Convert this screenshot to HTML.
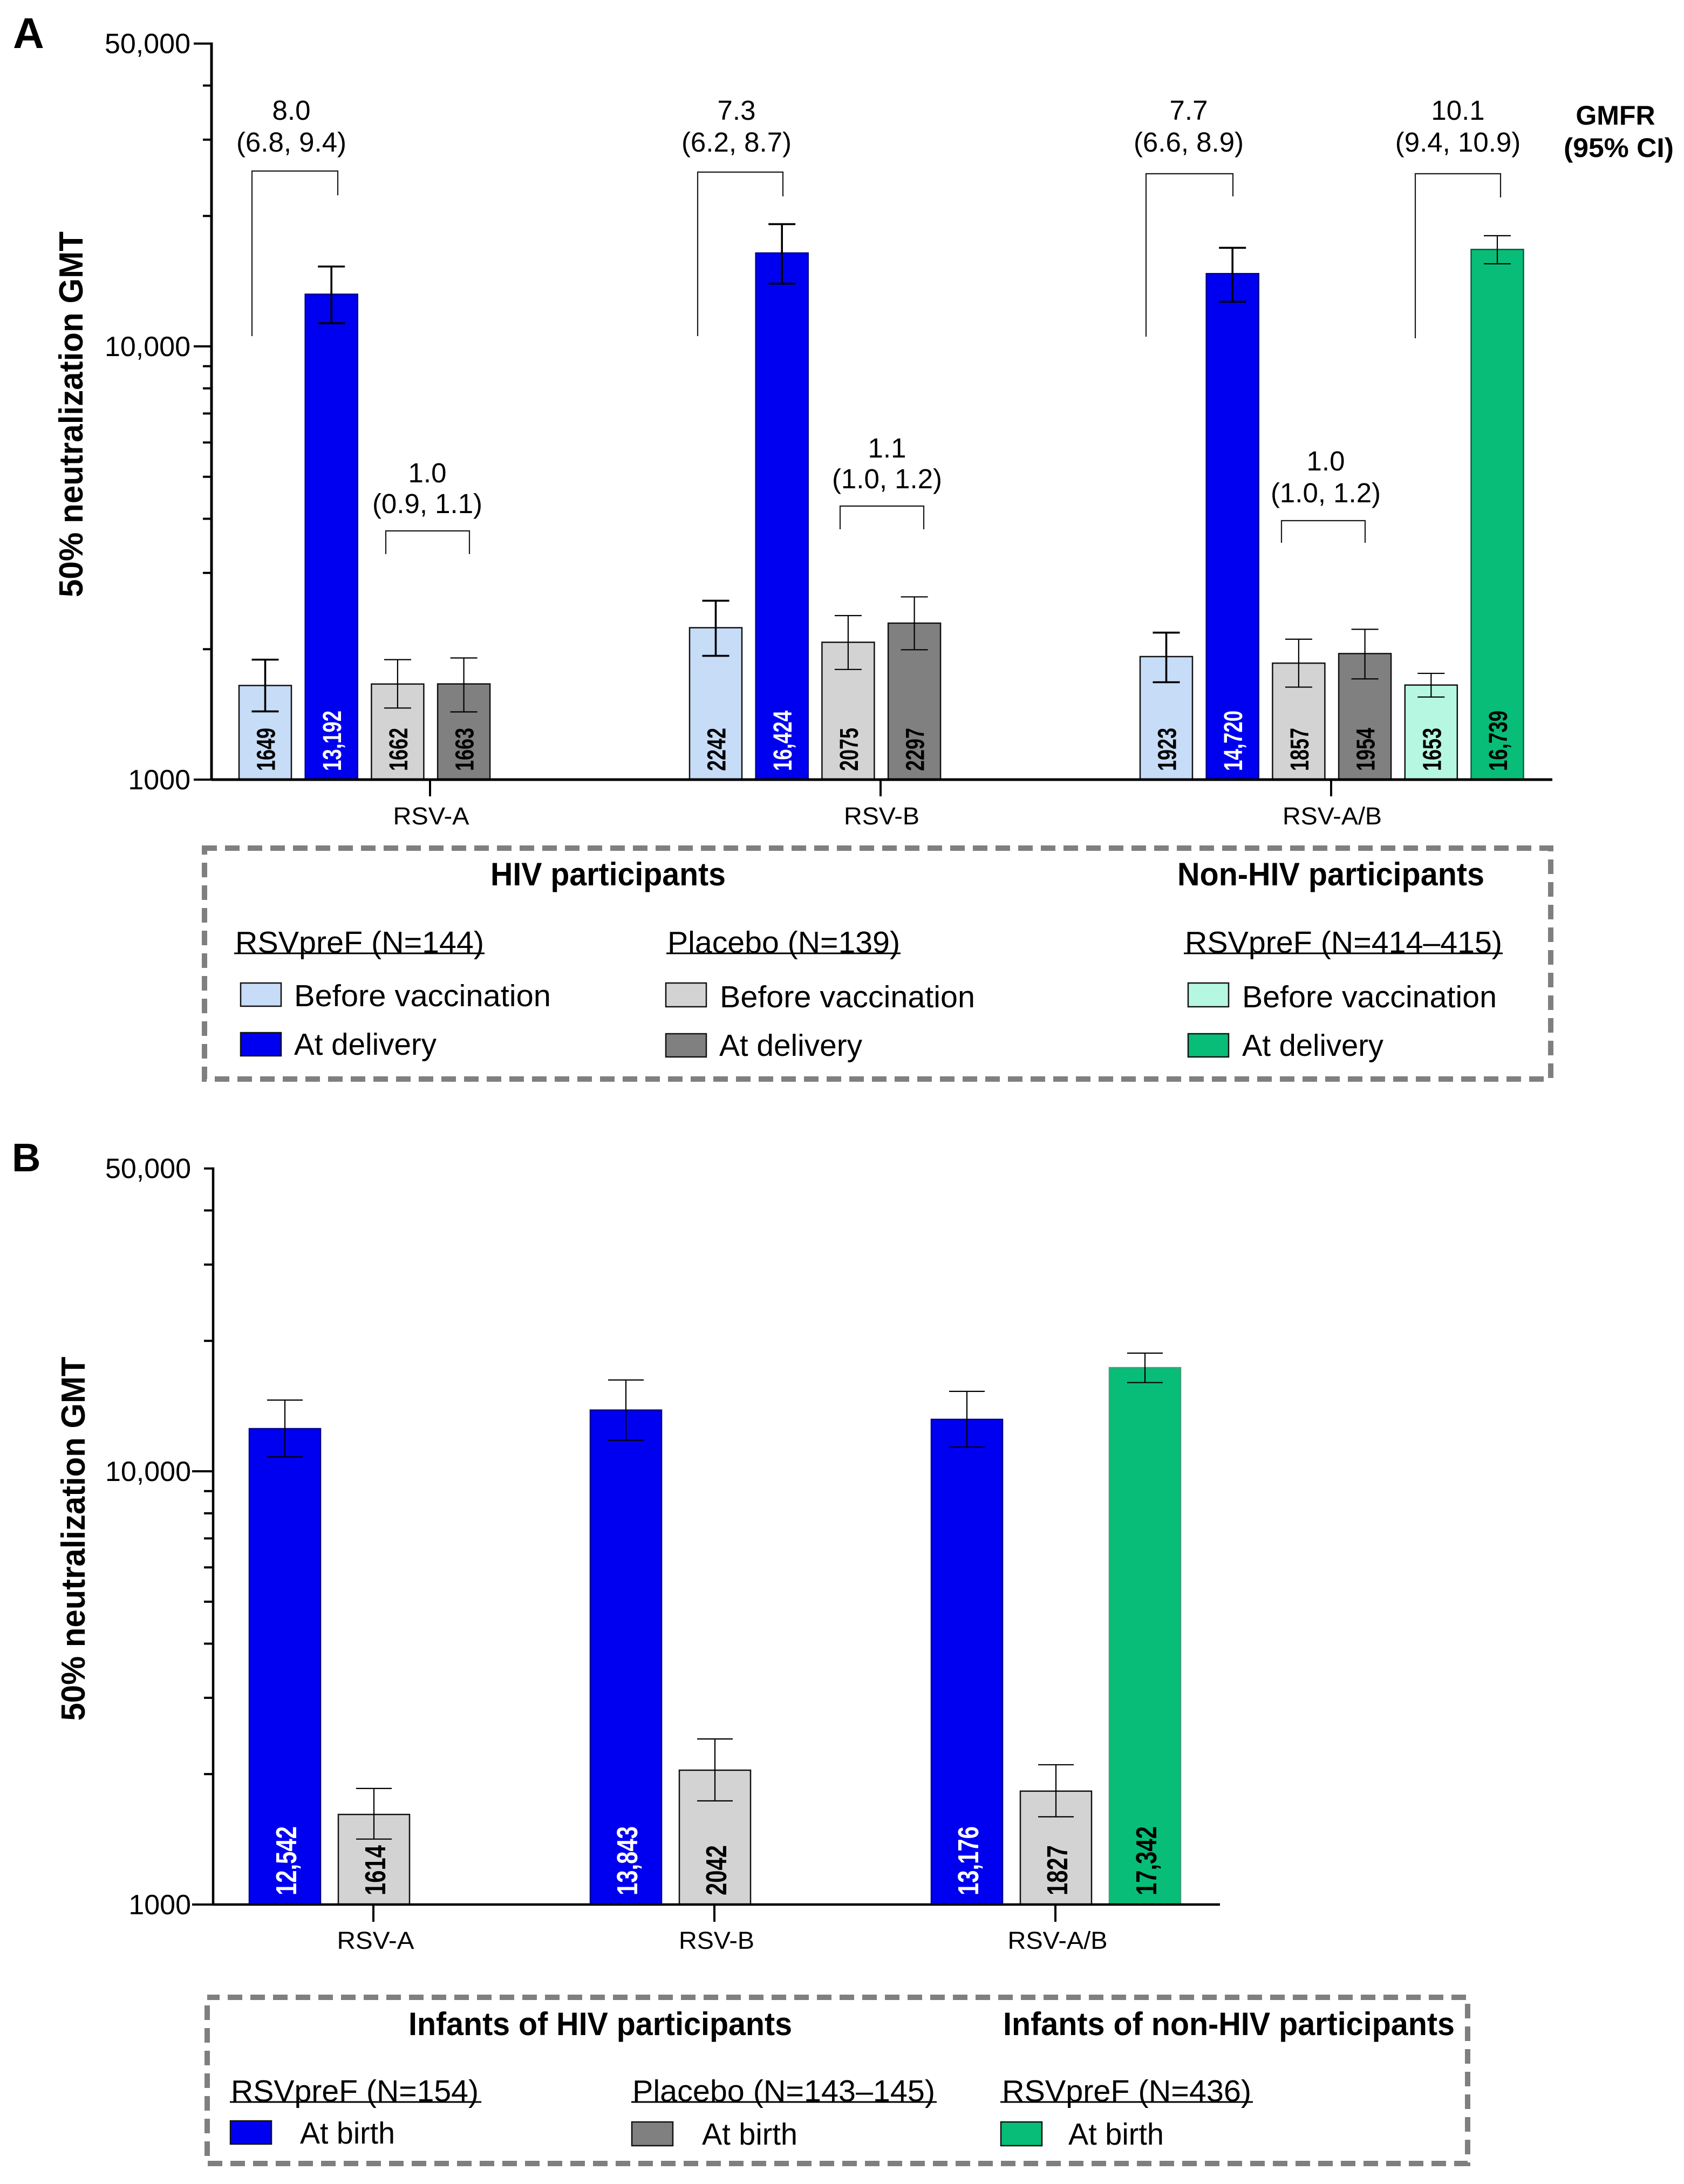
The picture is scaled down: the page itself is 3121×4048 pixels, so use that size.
<!DOCTYPE html>
<html lang="en">
<head>
<meta charset="utf-8">
<title>50% neutralization GMT by RSV subgroup</title>
<style>
html,body{margin:0;padding:0;background:#fff;}
svg{display:block;}
text{font-family:"Liberation Sans",Arial,sans-serif;fill:#000;}
.b{font-weight:bold;}
.gm{font-size:51px;text-anchor:middle;}
.br{fill:none;stroke:#1a1a1a;stroke-width:2.2;}
.leg{font-size:57px;}
.hd{font-size:60px;font-weight:bold;}
.box{fill:none;stroke:#7f7f7f;stroke-width:10;stroke-dasharray:27 15;stroke-dashoffset:4;}
.ul{stroke:#000;stroke-width:3;}
.sw{stroke:#111;stroke-width:2.5;}
</style>
</head>
<body>
<svg id="figure" xmlns="http://www.w3.org/2000/svg" width="3121" height="4048" viewBox="0 0 3121 4048">
<rect x="0" y="0" width="3121" height="4048" fill="#fff"/>

<text class="b" x="24" y="89" font-size="80">A</text>
<text class="b" x="22" y="2171" font-size="74">B</text>

<text class="b" transform="translate(153,768) rotate(-90)" font-size="62" text-anchor="middle" textLength="678" lengthAdjust="spacingAndGlyphs">50% neutralization GMT</text>
<text class="b" transform="translate(157,2852) rotate(-90)" font-size="62" text-anchor="middle" textLength="675" lengthAdjust="spacingAndGlyphs">50% neutralization GMT</text>

<g id="panelA"></g>
<g id="panelB"></g>

<g>
<text class="gm" x="540" y="222">8.0</text>
<text class="gm" x="540" y="281">(6.8, 9.4)</text>
<path class="br" d="M467 623V317H626V362"/>
<text class="gm" x="792" y="894">1.0</text>
<text class="gm" x="792" y="951">(0.9, 1.1)</text>
<path class="br" d="M715 1027V984H870V1027"/>
<text class="gm" x="1365" y="222">7.3</text>
<text class="gm" x="1365" y="281">(6.2, 8.7)</text>
<path class="br" d="M1293 623V319H1451V364"/>
<text class="gm" x="1644" y="848">1.1</text>
<text class="gm" x="1644" y="905">(1.0, 1.2)</text>
<path class="br" d="M1557 981V938H1712V981"/>
<text class="gm" x="2203" y="222">7.7</text>
<text class="gm" x="2203" y="281">(6.6, 8.9)</text>
<path class="br" d="M2124 624V322H2285V364"/>
<text class="gm" x="2457" y="872">1.0</text>
<text class="gm" x="2457" y="931">(1.0, 1.2)</text>
<path class="br" d="M2375 1006V965H2530V1006"/>
<text class="gm" x="2702" y="222">10.1</text>
<text class="gm" x="2702" y="281">(9.4, 10.9)</text>
<path class="br" d="M2623 627V322H2781V366"/>
<text class="b" x="2994" y="231" font-size="50" text-anchor="middle">GMFR</text>
<text class="b" x="3000" y="291" font-size="50" text-anchor="middle" textLength="204" lengthAdjust="spacingAndGlyphs">(95% CI)</text>
</g>

<g>
<rect class="box" x="379" y="1572" width="2495" height="428"/>
<text class="hd" x="909" y="1641" textLength="436" lengthAdjust="spacingAndGlyphs">HIV participants</text>
<text class="hd" x="2182" y="1641" textLength="569" lengthAdjust="spacingAndGlyphs">Non-HIV participants</text>

<text class="leg" x="436" y="1766" textLength="461" lengthAdjust="spacingAndGlyphs">RSVpreF (N=144)</text>
<line class="ul" x1="434" x2="898" y1="1767" y2="1767"/>
<text class="leg" x="1237" y="1766" textLength="431" lengthAdjust="spacingAndGlyphs">Placebo (N=139)</text>
<line class="ul" x1="1235" x2="1669" y1="1767" y2="1767"/>
<text class="leg" x="2196" y="1766" textLength="588" lengthAdjust="spacingAndGlyphs">RSVpreF (N=414–415)</text>
<line class="ul" x1="2194" x2="2785" y1="1767" y2="1767"/>

<rect class="sw" x="446" y="1822" width="75" height="43" fill="#C6DCF7"/>
<text class="leg" x="545" y="1865" textLength="476" lengthAdjust="spacingAndGlyphs">Before vaccination</text>
<rect class="sw" x="446" y="1914" width="75" height="43" fill="#0000F0"/>
<text class="leg" x="545" y="1955" textLength="264" lengthAdjust="spacingAndGlyphs">At delivery</text>

<rect class="sw" x="1234" y="1822" width="75" height="44" fill="#D3D3D3"/>
<text class="leg" x="1334" y="1867" textLength="473" lengthAdjust="spacingAndGlyphs">Before vaccination</text>
<rect class="sw" x="1234" y="1916" width="75" height="43" fill="#808080"/>
<text class="leg" x="1333" y="1957" textLength="265" lengthAdjust="spacingAndGlyphs">At delivery</text>

<rect class="sw" x="2202" y="1822" width="75" height="44" fill="#B5F7E0"/>
<text class="leg" x="2302" y="1867" textLength="472" lengthAdjust="spacingAndGlyphs">Before vaccination</text>
<rect class="sw" x="2202" y="1916" width="75" height="43" fill="#08BD78"/>
<text class="leg" x="2302" y="1957" textLength="262" lengthAdjust="spacingAndGlyphs">At delivery</text>
</g>

<g>
<rect class="box" x="384" y="3702" width="2336" height="308"/>
<text class="hd" x="757" y="3772" textLength="711" lengthAdjust="spacingAndGlyphs">Infants of HIV participants</text>
<text class="hd" x="1859" y="3772" textLength="837" lengthAdjust="spacingAndGlyphs">Infants of non-HIV participants</text>

<text class="leg" x="428" y="3895" textLength="459" lengthAdjust="spacingAndGlyphs">RSVpreF (N=154)</text>
<line class="ul" x1="426" x2="892" y1="3896" y2="3896"/>
<text class="leg" x="1172" y="3895" textLength="561" lengthAdjust="spacingAndGlyphs">Placebo (N=143–145)</text>
<line class="ul" x1="1170" x2="1736" y1="3896" y2="3896"/>
<text class="leg" x="1857" y="3895" textLength="462" lengthAdjust="spacingAndGlyphs">RSVpreF (N=436)</text>
<line class="ul" x1="1854" x2="2322" y1="3896" y2="3896"/>

<rect class="sw" x="427" y="3931" width="76" height="43" fill="#0000F0"/>
<text class="leg" x="556" y="3973" textLength="176" lengthAdjust="spacingAndGlyphs">At birth</text>
<rect class="sw" x="1171" y="3933" width="76" height="44" fill="#808080"/>
<text class="leg" x="1301" y="3975" textLength="177" lengthAdjust="spacingAndGlyphs">At birth</text>
<rect class="sw" x="1855" y="3933" width="76" height="44" fill="#08BD78"/>
<text class="leg" x="1980" y="3975" textLength="177" lengthAdjust="spacingAndGlyphs">At birth</text>
</g>
</svg>

<script>
/* ---------- chart data ---------- */
const categories = ['RSV-A', 'RSV-B', 'RSV-A/B'];

const panelASeries = ['HIV RSVpreF before', 'HIV RSVpreF delivery', 'HIV placebo before', 'HIV placebo delivery', 'Non-HIV before', 'Non-HIV delivery'];
const panelAValues = [
  [1649, 13192, 1662, 1663],
  [2242, 16424, 2075, 2297],
  [1923, 14720, 1857, 1954, 1653, 16739]
];
const panelAUpper = [
  [1892, 15286, 1892, 1909],
  [2588, 19148, 2391, 2641],
  [2184, 16886, 2109, 2223, 1759, 18009]
];
const panelALower = [
  [1437, 11310, 1463, 1433],
  [1931, 13960, 1796, 1994],
  [1678, 12675, 1635, 1708, 1551, 15510]
];

const panelBSeries = ['HIV RSVpreF birth', 'HIV placebo birth', 'Non-HIV RSVpreF birth'];
const panelBValues = [
  [12542, 1614],
  [13843, 2042],
  [13176, 1827, 17342]
];
const panelBUpper = [
  [14600, 1853],
  [16246, 2411],
  [15293, 2102, 18737]
];
const panelBLower = [
  [10797, 1416],
  [11788, 1735],
  [11376, 1594, 16024]
];

const yTickValues = [1000, 2000, 3000, 4000, 5000, 6000, 7000, 8000, 9000, 10000, 20000, 30000, 40000, 50000];
const yMajorTicks = [1000, 10000, 50000];
const yMajorLabels = ['1000', '10,000', '50,000'];

/* ---------- axis functions ---------- */
function yA(v) { return 1445 - 803 * Math.log10(v / 1000); }
function yB(v) { return 3530 - 803 * Math.log10(v / 1000); }
function tickXA(g) { return 797 + g * 835; }
function tickXB(g) { return 692 + g * 632; }
function barXA(g, s) { return tickXA(g) - 354 + s * 122.7; }
function barXB(g, s) { return tickXB(g) - 230 + s * 165; }
function formatValue(v) { return v >= 10000 ? v.toLocaleString('en-US') : String(v); }

const NS = 'http://www.w3.org/2000/svg';
function make(tag, parent) {
  const el = document.createElementNS(NS, tag);
  parent.appendChild(el);
  return el;
}
function drawLine(el, x1, y1, x2, y2, w, color) {
  el.setAttribute('x1', x1);
  el.setAttribute('y1', y1);
  el.setAttribute('x2', x2);
  el.setAttribute('y2', y2);
  el.setAttribute('stroke', w ? color : 'none');
  el.setAttribute('stroke-width', w);
}

const panelAFills = ['#C6DCF7', '#0000F0', '#D3D3D3', '#808080', '#B5F7E0', '#08BD78'];
const panelAStrokes = ['#111', '#00008c', '#111', '#111', '#111', '#0a5c3c'];
const panelATextFills = ['#000', '#fff', '#000', '#000', '#000', '#000'];
const panelAErrWidths = [3.6, 3.6, 2.2, 2.2, 2.2, 2.2];
const panelBFills = ['#0000F0', '#D3D3D3', '#08BD78'];
const panelBStrokes = ['#00008c', '#111', '#3f9f78'];
const panelBTextFills = ['#fff', '#000', '#000'];

function drawAxes(root, y, axisX, axisEnd, axisW, tickX, labelX, labelBaseline, labelDx, tickBottom, majorLeft, minorLeft, topTickLeft, labelLens) {
  categories.forEach(function (name, g) {
    const tick = make('line', root);
    
    
    drawLine(tick, tickX(g), y(1000), tickX(g), tickBottom, 4, '#000');
    const label = make('text', root);
    
    
    label.setAttribute('x', tickX(g) + labelDx);
    label.setAttribute('y', labelBaseline);
    label.setAttribute('font-size', '45');
    label.setAttribute('text-anchor', 'middle');
    label.setAttribute('textLength', labelLens[g]);
    label.setAttribute('lengthAdjust', 'spacingAndGlyphs');
    label.textContent = name;
  });
  yTickValues.forEach(function (v) {
    const major = yMajorTicks.indexOf(v) >= 0;
    const left = v === 50000 ? topTickLeft : (major ? majorLeft : minorLeft);
    const tick = make('line', root);
    
    
    drawLine(tick, left, y(v), axisX, y(v), 4, '#000');
    if (major) {
      const label = make('text', root);
      
      
      label.setAttribute('x', labelX);
      label.setAttribute('y', y(v) + 18);
      label.setAttribute('font-size', '52');
      label.setAttribute('text-anchor', 'end');
      label.textContent = yMajorLabels[yMajorTicks.indexOf(v)];
    }
  });
  const yAxis = make('line', root);
  
  
  drawLine(yAxis, axisX, y(50000) - 2, axisX, y(1000) + 2, axisW, '#000');
  const xAxis = make('line', root);
  
  
  drawLine(xAxis, axisX, y(1000), axisEnd, y(1000), axisW, '#000');
}

function drawBars(root, opts) {
  opts.values.forEach(function (group, g) {
    group.forEach(function (v, s) {
      const series = opts.seriesOf(s);
      const x = opts.barX(g, s);
      const cx = x + opts.barW / 2;

      const bar = make('rect', root);
      
      
      bar.setAttribute('x', x);
      bar.setAttribute('y', opts.y(v));
      bar.setAttribute('width', opts.barW);
      bar.setAttribute('height', opts.y(1000) - opts.y(v));
      bar.setAttribute('fill', opts.fills[series]);
      bar.setAttribute('stroke', opts.strokes[series]);
      bar.setAttribute('stroke-width', '2.5');

      const errW = opts.errW(series);
      const stem = make('line', root);
      
      
      drawLine(stem, cx, opts.y(opts.upper[g][s]), cx, opts.y(opts.lower[g][s]), errW, '#000');
      const capTop = make('line', root);
      
      
      drawLine(capTop, cx - opts.capHalf, opts.y(opts.upper[g][s]), cx + opts.capHalf, opts.y(opts.upper[g][s]), errW, '#000');
      const capLow = make('line', root);
      
      
      drawLine(capLow, cx - opts.capHalf, opts.y(opts.lower[g][s]), cx + opts.capHalf, opts.y(opts.lower[g][s]), errW, '#000');

      const label = make('text', root);
      
      
      label.setAttribute('transform', 'translate(' + (cx + opts.labelDx) + ',' + opts.labelBase + ') rotate(-90)');
      label.setAttribute('font-size', opts.labelSize);
      label.setAttribute('font-weight', 'bold');
      label.setAttribute('style', 'fill:' + opts.textFills[series]);
      label.setAttribute('textLength', v >= 10000 ? opts.longLen : opts.shortLen);
      label.setAttribute('lengthAdjust', 'spacingAndGlyphs');
      label.textContent = formatValue(v);
    });
  });
}

const rootA = document.getElementById('panelA');
const rootB = document.getElementById('panelB');

drawBars(rootA, {
  values: panelAValues, upper: panelAUpper, lower: panelALower,
  y: yA, barX: barXA, barW: 97, capHalf: 25,
  seriesOf: function (s) { return s; },
  fills: panelAFills, strokes: panelAStrokes, textFills: panelATextFills,
  errW: function (series) { return panelAErrWidths[series]; },
  labelDx: 18, labelBase: 1429, labelSize: 48, longLen: 112, shortLen: 80
});
drawAxes(rootA, yA, 392, 2877, 5, tickXA, 353, 1528, 2, 1476, 359, 376, 359, [141, 140, 184]);

drawBars(rootB, {
  values: panelBValues, upper: panelBUpper, lower: panelBLower,
  y: yB, barX: barXB, barW: 132, capHalf: 33,
  seriesOf: function (s) { return s; },
  fills: panelBFills, strokes: panelBStrokes, textFills: panelBTextFills,
  errW: function () { return 2.2; },
  labelDx: 21, labelBase: 3513, labelSize: 54, longLen: 128, shortLen: 93
});
drawAxes(rootB, yB, 395, 2261, 4.5, tickXB, 354, 3612, 4, 3562, 356, 378, 378, [143, 140, 185]);
</script>
</body>
</html>
